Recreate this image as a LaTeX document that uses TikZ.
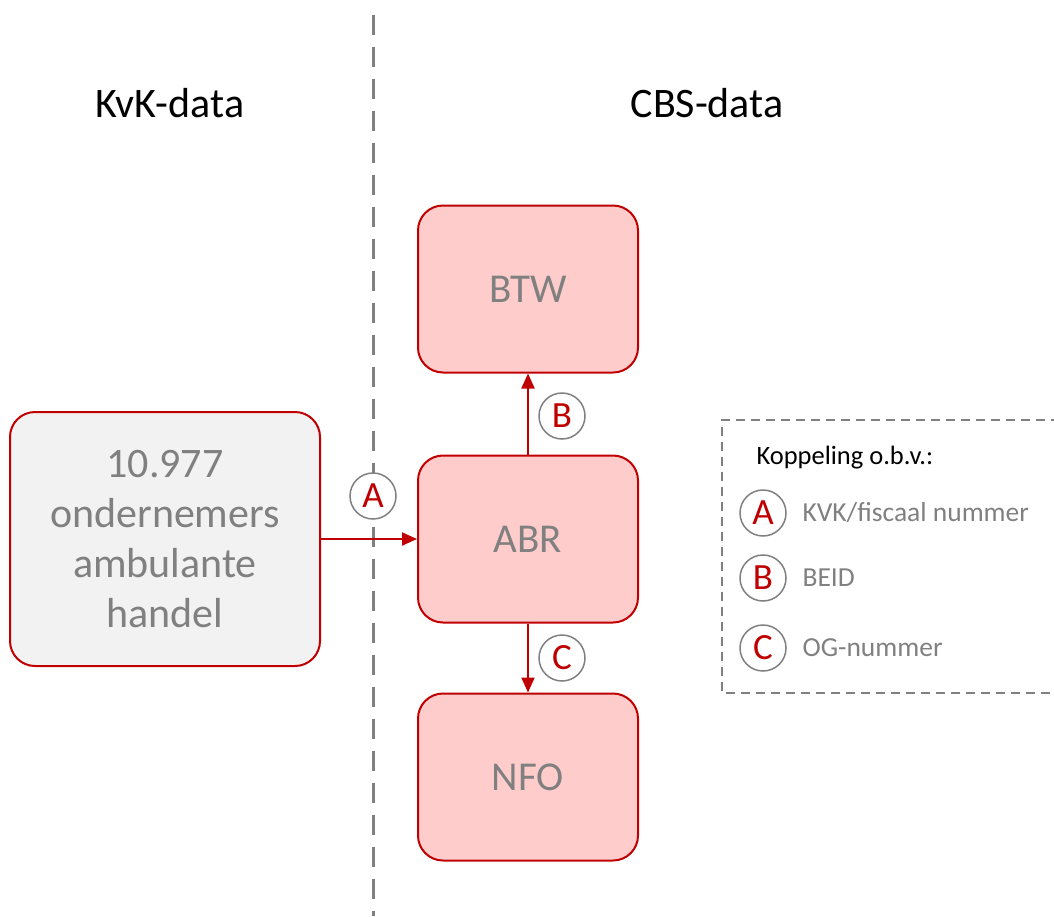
\documentclass[tikz,border=0pt]{standalone}
\usepackage{fontspec}
\setmainfont{Carlito}
\usetikzlibrary{arrows.meta}
\definecolor{cbsred}{HTML}{C00000}
\definecolor{cbspink}{HTML}{FFCCCC}
\definecolor{cbsgray}{HTML}{808080}
\definecolor{kvkfill}{HTML}{F2F2F2}
\begin{document}
\begin{tikzpicture}[x=1pt,y=-1pt,
    databox/.style={draw=cbsred,line width=2pt,fill=cbspink,rounded corners=25pt,minimum width=220pt,minimum height=167pt,text=cbsgray,font=\fontsize{41}{48}\selectfont},
    link/.style={draw=cbsgray,line width=1.5pt,fill=white,circle,minimum size=46pt,inner sep=0pt,text=cbsred,font=\fontsize{37}{40}\selectfont},
    koppel/.style={cbsred,line width=2pt,-{Triangle[length=15pt,width=13pt]}},
    heading/.style={font=\fontsize{42}{48}\selectfont},
    legtekst/.style={anchor=west,text=cbsgray,font=\fontsize{27.5}{32}\selectfont}]
        \useasboundingbox (0,0) rectangle (1054,916);
        \draw[cbsgray,line width=3pt,dash pattern=on 20pt off 12pt] (373,15) -- (373,916);

        \node[heading] at (170,103) (kvk) {KvK-data};
        \node[heading] at (707,103) (cbs) {CBS-data};

        \node[databox] at (528,289) (btw) {BTW};
        \node[databox] at (528,539) (abr) {ABR};
        \node[databox] at (528,777) (nfo) {NFO};
        \node[databox,fill=kvkfill,minimum width=310pt,minimum height=254pt,align=center,font=\fontsize{42}{50}\selectfont] at (165,539) (ond) {10.977\\ondernemers\\ambulante\\handel};

        \draw[koppel] (ond.east |- abr) -- (abr.west);
        \draw[koppel] (abr.north) -- (btw.south);
        \draw[koppel] (abr.south) -- (nfo.north);

        \node[link] at (373,496) (a) {A};
        \node[link] at (562,416) (b) {B};
        \node[link] at (562,658) (c) {C};

        \draw[cbsgray,line width=1.5pt,dash pattern=on 9pt off 6pt] (1060,420) -- (722,420) -- (722,693) -- (1060,693);
        \node[anchor=west,font=\fontsize{26.5}{32}\selectfont] at (753,458) (titel) {Koppeling o.b.v.:};
        \node[link] at (763,513) (la) {A};
        \node[link] at (763,578) (lb) {B};
        \node[link] at (763,648) (lc) {C};
        \node[legtekst] at (799,513) (ta) {KVK/fiscaal nummer};
        \node[legtekst] at (799,578) (tb) {BEID};
        \node[legtekst] at (799,648) (tc) {OG-nummer};
    \end{tikzpicture}
\end{document}
